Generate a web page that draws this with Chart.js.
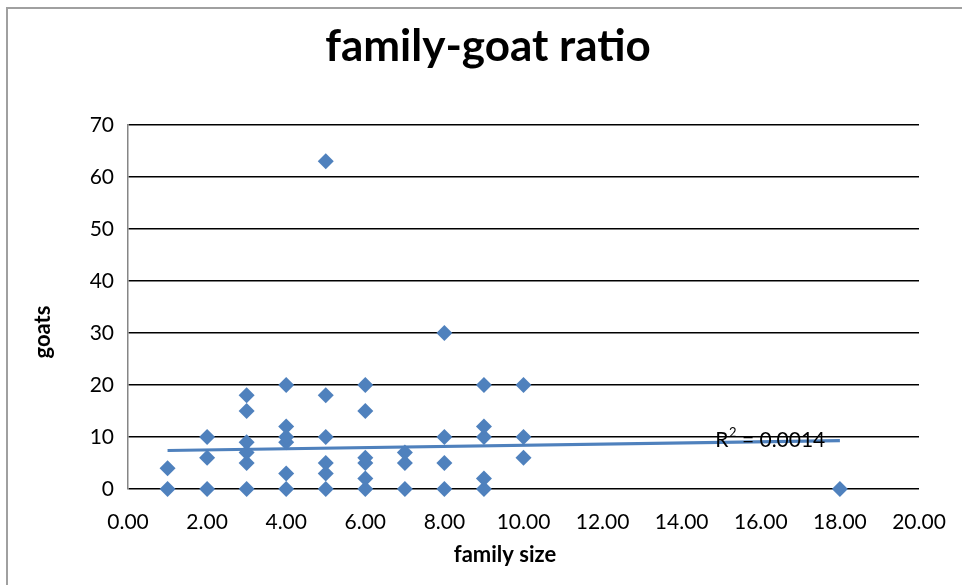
<!DOCTYPE html>
<html>
<head>
<meta charset="utf-8">
<script src="https://cdn.jsdelivr.net/npm/chart.js@4/dist/chart.umd.min.js"></script>
<style>
  html, body { margin: 0; padding: 0; background: #fff; overflow: hidden; }
  #wrap { position: relative; width: 962px; height: 585px; }
  #frame { position: absolute; left: 6px; top: 7px; width: 980px; height: 600px;
           border-left: 2px solid #a0a0a0; border-top: 2px solid #a0a0a0; pointer-events: none; }
  canvas { position: absolute; left: 0; top: 0; }
</style>
</head>
<body>
<div id="wrap">
  <canvas id="c" width="962" height="585"></canvas>
  <div id="frame"></div>
</div>
<script>
// ---- data ----
const familySize = [1,1, 2,2,2, 3,3,3,3,3,3, 4,4,4,4,4,4, 5,5,5,5,5,5, 6,6,6,6,6,6, 7,7,7, 8,8,8,8, 9,9,9,9,9, 10,10,10, 18];
const goats      = [0,4, 0,6,10, 0,5,7,9,15,18, 0,3,9,10,12,20, 0,3,5,10,18,63, 0,2,5,6,15,20, 0,5,7, 0,5,10,30, 0,2,10,12,20, 6,10,20, 0];
// linear trendline endpoints
const trendX = [1, 18];
const trendY = [7.4, 9.3];
const r2Value = "0.0014";
const r2Anchor = [14.85, 9.4];
const xTicks = [0, 2, 4, 6, 8, 10, 12, 14, 16, 18, 20];
const yTicks = [0, 10, 20, 30, 40, 50, 60, 70];
const chartTitle = 'family-goat ratio';
const xTitle = 'family size';
const yTitle = 'goats';

const BLUE = '#4F81BD';
const FONT = 'Lato, "Open Sans", sans-serif';

const points = familySize.map((x, i) => ({ x: x, y: goats[i] }));
const trend = trendX.map((x, i) => ({ x: x, y: trendY[i] }));

const labelsPlugin = {
  id: 'extraLabels',
  afterDatasetsDraw(chart) {
    const { ctx, scales } = chart;
    ctx.save();
    ctx.fillStyle = '#000';
    ctx.textBaseline = 'middle';
    // R² label anchored in data space
    let px = scales.x.getPixelForValue(r2Anchor[0]);
    const py = scales.y.getPixelForValue(r2Anchor[1]);
    ctx.textAlign = 'left';
    ctx.font = '21px ' + FONT;
    ctx.fillText('R', px, py);
    px += ctx.measureText('R').width;
    ctx.font = '13px ' + FONT;
    ctx.fillText('2', px + 0.5, py - 7);
    px += ctx.measureText('2').width + 0.5;
    ctx.font = '21px ' + FONT;
    ctx.fillText(' = ' + r2Value, px, py);
    ctx.restore();
  },
  afterDraw(chart) {
    const { ctx } = chart;
    ctx.save();
    ctx.fillStyle = '#000';
    ctx.textAlign = 'center';
    ctx.textBaseline = 'middle';
    ctx.font = 'bold 22px ' + FONT;
    ctx.fillText(xTitle, 505, 555);
    ctx.translate(43, 332);
    ctx.rotate(-Math.PI / 2);
    ctx.fillText(yTitle, 0, 0);
    ctx.restore();
  }
};

new Chart(document.getElementById('c'), {
  type: 'scatter',
  data: {
    datasets: [
      {
        label: 'goats',
        data: points,
        pointStyle: 'rectRot',
        pointRadius: 8,
        pointHoverRadius: 8,
        backgroundColor: BLUE,
        borderColor: BLUE,
        borderWidth: 0,
        clip: false,
        order: 1
      },
      {
        label: 'trend',
        data: trend,
        showLine: true,
        borderColor: BLUE,
        borderWidth: 3.2,
        pointRadius: 0,
        fill: false,
        clip: false,
        order: 2
      }
    ]
  },
  options: {
    responsive: false,
    animation: false,
    layout: { padding: { left: 14, right: 0, top: 0, bottom: 0 } },
    plugins: {
      legend: { display: false },
      tooltip: { enabled: false },
      title: {
        display: true,
        text: chartTitle,
        color: '#000',
        font: { family: FONT, size: 44, weight: 'bold' },
        padding: { top: 20, bottom: 52 }
      }
    },
    scales: {
      x: {
        type: 'linear',
        min: 0, max: 20,
        afterBuildTicks(s) { s.ticks = xTicks.map(v => ({ value: v })); },
        afterFit(s) { s.height = 96; s.paddingLeft = 0; s.paddingRight = 0; },
        grid: { display: false, drawTicks: false },
        border: { display: false },
        ticks: {
          color: '#000',
          font: { family: FONT, size: 21 },
          padding: 21,
          maxRotation: 0,
          callback: v => Number(v).toFixed(2)
        }
      },
      y: {
        type: 'linear',
        min: 0, max: 70,
        afterBuildTicks(s) { s.ticks = yTicks.map(v => ({ value: v })); },
        afterFit(s) { s.width = 114; },
        grid: { color: '#000', lineWidth: 1.5, drawTicks: false },
        border: { display: true, color: '#868686', width: 1.5 },
        ticks: {
          color: '#000',
          font: { family: FONT, size: 21 },
          padding: 14
        }
      },
      yRight: {
        type: 'linear',
        position: 'right',
        display: true,
        min: 0, max: 70,
        afterFit(s) { s.width = 43; },
        grid: { display: false, drawTicks: false },
        border: { display: false },
        ticks: { display: false }
      }
    }
  },
  plugins: [labelsPlugin]
});
</script>
</body>
</html>
